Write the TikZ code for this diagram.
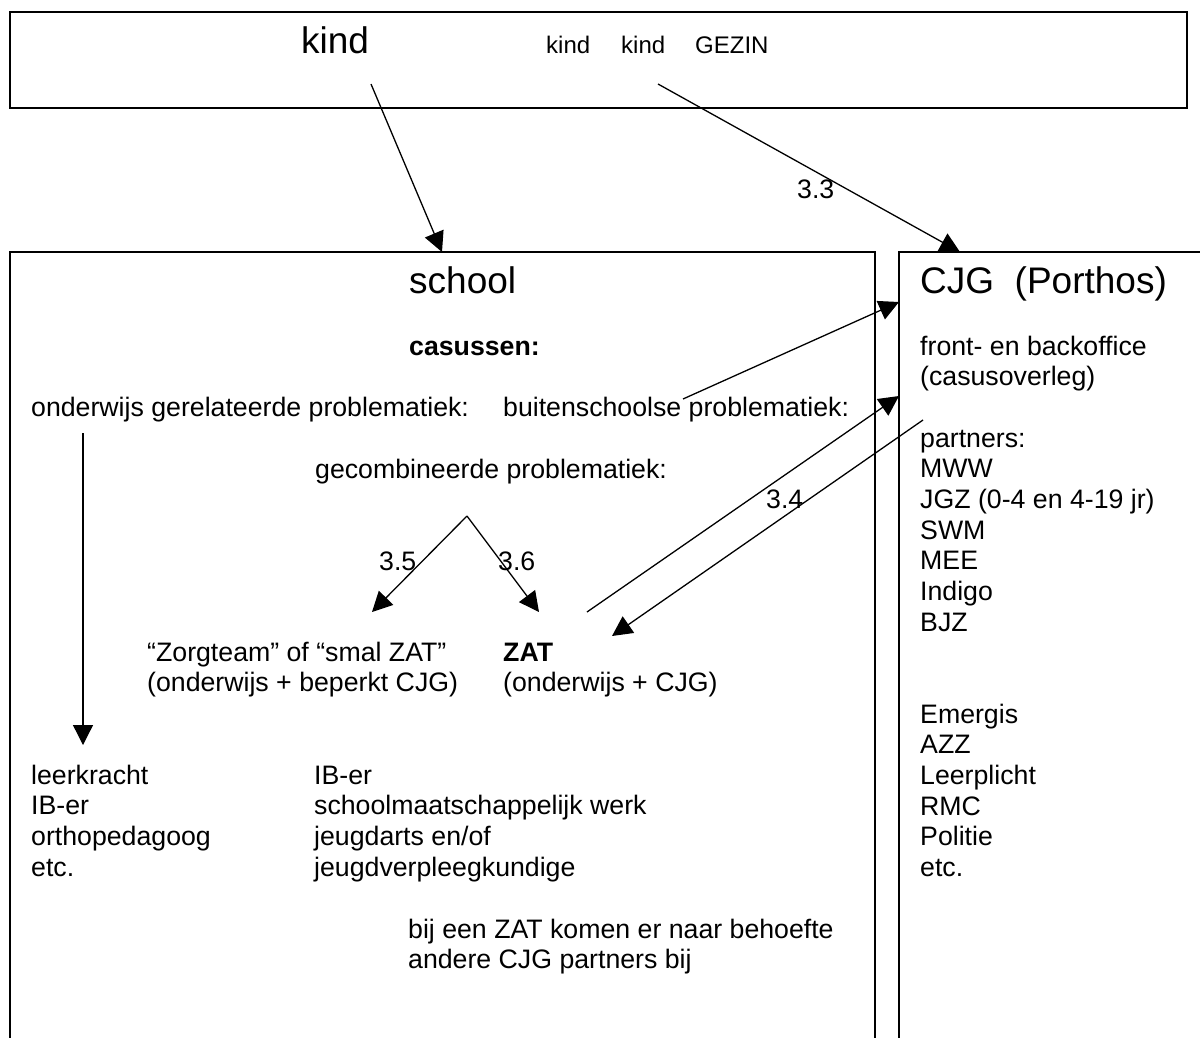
\documentclass[tikz,border=0pt]{standalone}
\usepackage{fontspec}
\setmainfont{Liberation Sans}
\usetikzlibrary{arrows.meta}
\begin{document}
\begin{tikzpicture}[x=1pt,y=-1pt,
  body/.style={anchor=base west,inner sep=0pt,font=\fontsize{26.7}{30.7}\selectfont},
  big/.style={anchor=base west,inner sep=0pt,font=\fontsize{37}{42}\selectfont},
  small/.style={anchor=base west,inner sep=0pt,font=\fontsize{24}{27}\selectfont},
  frame/.style={line width=1.5pt},
  conn/.style={line width=1.3pt,-{Triangle[length=20pt,width=20pt]}}]
\useasboundingbox (0,0) rectangle (1200,1037);
\clip (0,0) rectangle (1200,1037);
\fill[white] (0,0) rectangle (1200,1037);

% frames
\node[frame,draw,rectangle,minimum width=1177pt,minimum height=96pt,anchor=north west,inner sep=0pt,outer sep=0pt] (gezinbox) at (10,12) {};
\draw[frame] (10,1050) -- (10,252) -- (875,252) -- (875,1050);
\draw[frame] (899,1050) -- (899,252) -- (1215,252);

% top texts
\node[big] (kindbig) at (301,53) {kind};
\node[small] (kindsmall) at (546,53) {kind\hspace*{31pt}kind\hspace*{30pt}GEZIN};

% titles
\node[big] (school) at (409,293) {school};
\node[big] (cjg) at (920,293) {CJG\ \ (Porthos)};

% school texts
\node[body] (casussen) at (409,355) {\textbf{casussen:}};
\node[body] (onderwijs) at (31,416) {onderwijs gerelateerde problematiek:};
\node[body] (buiten) at (503,416) {buitenschoolse problematiek:};
\node[body] (gecomb) at (315,478) {gecombineerde problematiek:};
\node[body] (zorg) at (147,661) {\vtop{\hbox{“Zorgteam” of “smal ZAT”}\hbox{(onderwijs + beperkt CJG)}}};
\node[body] (zat) at (503,661) {\vtop{\hbox{\textbf{ZAT}}\hbox{(onderwijs + CJG)}}};
\node[body] (leer) at (31,784) {\vtop{\hbox{leerkracht}\hbox{IB-er}\hbox{orthopedagoog}\hbox{etc.}}};
\node[body] (ib) at (314,784) {\vtop{\hbox{IB-er}\hbox{schoolmaatschappelijk werk}\hbox{jeugdarts en/of}\hbox{jeugdverpleegkundige}}};
\node[body] (bij) at (408,938) {\vtop{\hbox{bij een ZAT komen er naar behoefte}\hbox{andere CJG partners bij}}};

% CJG texts
\node[body] (front) at (920,355) {\vtop{\hbox{front- en backoffice}\hbox{(casusoverleg)}}};
\node[body] (partners) at (920,447) {\vtop{\hbox{partners:}\hbox{MWW}\hbox{JGZ (0-4 en 4-19 jr)}\hbox{SWM}\hbox{MEE}\hbox{Indigo}\hbox{BJZ}}};
\node[body] (emergis) at (920,723) {\vtop{\hbox{Emergis}\hbox{AZZ}\hbox{Leerplicht}\hbox{RMC}\hbox{Politie}\hbox{etc.}}};

% labels
\node[body] (l33) at (797,198) {3.3};
\node[body] (l34) at (766,508) {3.4};
\node[body] (l35) at (379,570) {3.5};
\node[body] (l36) at (498,570) {3.6};

% connector end points
\coordinate (kindfoot) at (371,84);
\coordinate (schooltop) at (442,252);
\coordinate (gezinfoot) at (658,84);
\coordinate (cjgtop) at (960,252);
\coordinate (buitenp) at (683,399);
\coordinate (cjgin1) at (899,302);
\coordinate (zatout) at (587,612);
\coordinate (cjgin2) at (899,396);
\coordinate (cjgout) at (923,420);
\coordinate (zatin) at (612,636);
\coordinate (apex) at (467,516);
\coordinate (zorgin) at (372,612);
\coordinate (zatin2) at (539,612);
\coordinate (ondtop) at (83,433);
\coordinate (ondbot) at (83,745);

% connectors
\draw[conn] (kindfoot) -- (schooltop);
\draw[conn] (gezinfoot) -- (cjgtop);
\draw[conn] (buitenp) -- (cjgin1);
\draw[conn] (zatout) -- (cjgin2);
\draw[conn] (cjgout) -- (zatin);
\draw[conn] (apex) -- (zorgin);
\draw[conn] (apex) -- (zatin2);
\draw[conn] (ondtop) -- (ondbot);
\end{tikzpicture}
\end{document}
